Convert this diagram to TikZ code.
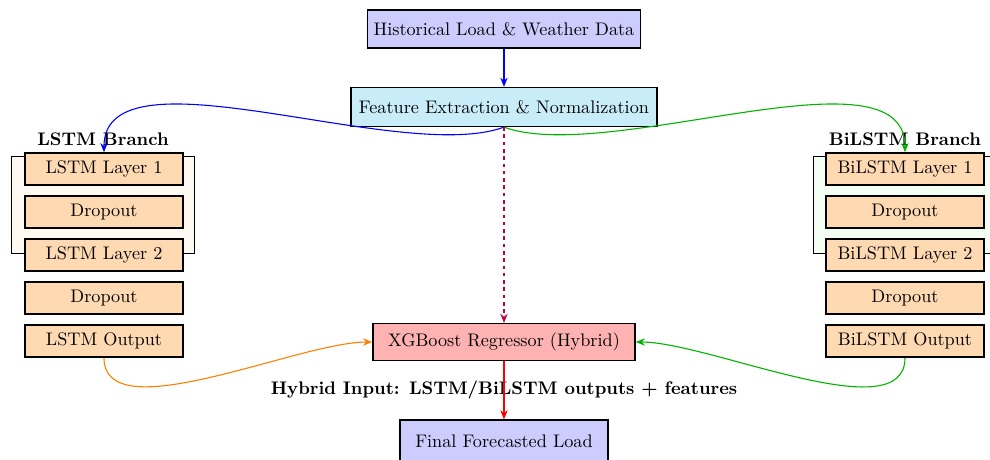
\documentclass[tikz,border=0pt]{standalone}
\usetikzlibrary{arrows.meta}
\definecolor{featcol}{RGB}{201,237,248}
\begin{document}
\begin{tikzpicture}[
    box/.style={draw, thick, inner sep=0pt, minimum height=0.73cm},
    layerbox/.style={draw, thick, fill=orange!30, inner sep=0pt, minimum width=3.05cm, minimum height=0.62cm},
    flow/.style={-{Stealth[length=5pt,width=4pt]}, semithick}
]
\useasboundingbox (0,0) rectangle (19.107,-8.859);

% branch frames
\draw[fill=orange!5] (0.226,-3.024) rectangle (3.750,-4.889);
\draw[fill=green!5] (15.697,-3.024) rectangle (19.22,-4.889);

\node[box, fill=blue!20, minimum width=5.27cm] (data) at (9.727,-0.560) {Historical Load \& Weather Data};
\node[box, fill=featcol, minimum width=5.9cm, minimum height=0.75cm] (feat) at (9.727,-2.065) {Feature Extraction \& Normalization};

\node[font=\bfseries] (lhead) at (1.988,-2.683) {LSTM Branch};
\node[font=\bfseries] (bhead) at (17.467,-2.683) {BiLSTM Branch};

\foreach \i/\txt in {1/LSTM Layer 1,2/Dropout,3/LSTM Layer 2,4/Dropout,5/LSTM Output} {
    \node[layerbox] (l\i) at (2.007,{-3.262-0.83*(\i-1)}) {\txt};
}
\foreach \i/\txt in {1/BiLSTM Layer 1,2/Dropout,3/BiLSTM Layer 2,4/Dropout,5/BiLSTM Output} {
    \node[layerbox] (b\i) at (17.467,{-3.262-0.83*(\i-1)}) {\txt};
}

\node[box, fill=red!30, minimum width=5.06cm, minimum height=0.71cm] (xgb) at (9.727,-6.601) {XGBoost Regressor (Hybrid)};
\node[font=\bfseries] (hyb) at (9.727,-7.527) {Hybrid Input: LSTM/BiLSTM outputs + features};
\node[box, fill=blue!20, minimum width=4.02cm, minimum height=0.8cm] (final) at (9.727,-8.508) {Final Forecasted Load};

% connections
\draw[flow, blue] (data) -- (feat);
\draw[flow, blue] (feat.south) .. controls +(-2.007,-0.733) and +(0,2.1) .. (l1.north);
\draw[flow, green!70!black] (feat.south) .. controls +(2.007,-0.733) and +(0,2.1) .. (b1.north);
\draw[flow, purple, thick, dash pattern=on 2pt off 2pt] (feat.south) -- (xgb.north);
\draw[flow, orange] (l5.south) to[out=-90, in=180, looseness=0.7] (xgb.west);
\draw[flow, green!70!black] (b5.south) to[out=-90, in=0, looseness=0.7] (xgb.east);
\draw[flow, red] (xgb) -- (final);
\end{tikzpicture}
\end{document}
